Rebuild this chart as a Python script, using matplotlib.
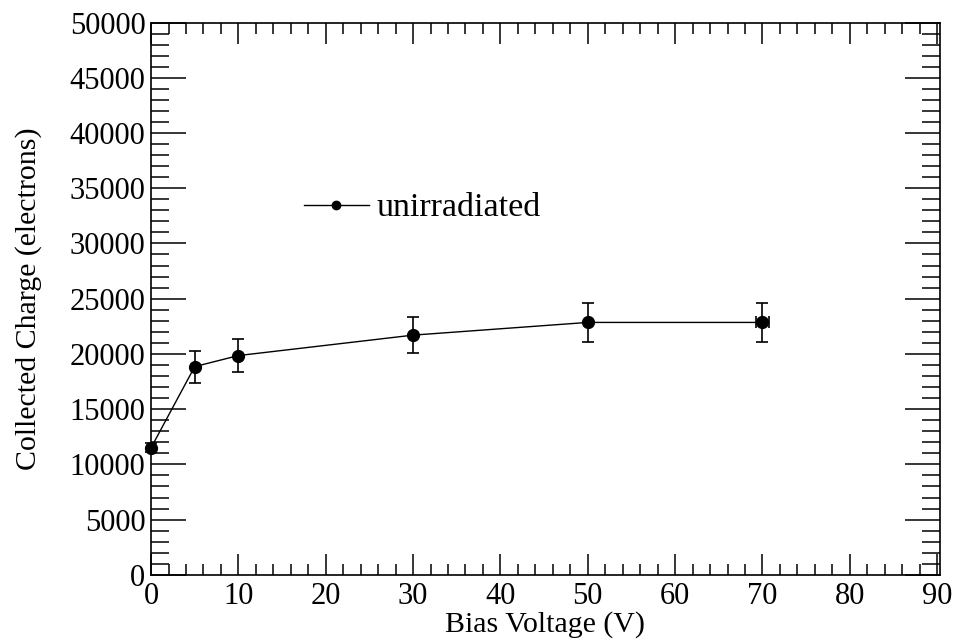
import matplotlib
matplotlib.use("Agg")
import matplotlib.pyplot as plt
from matplotlib.ticker import MultipleLocator

# Charge collection vs bias voltage
bias = [0, 5, 10, 30, 50, 70]
charge = [11500, 18850, 19850, 21700, 22850, 22850]
charge_err = [400, 1450, 1500, 1600, 1750, 1750]
bias_err = [0, 0, 0, 0, 0, 0.7]

plt.rcParams["font.family"] = ["Liberation Serif", "DejaVu Serif"]

fig = plt.figure(figsize=(9.56, 6.43), dpi=100)
ax = fig.add_axes([0.158, 0.106, 0.825, 0.859])

ax.errorbar(bias, charge, yerr=charge_err, xerr=bias_err, fmt="o-",
            color="black", lw=1, ms=8.5, elinewidth=1.2, capsize=4,
            capthick=1.2, clip_on=False, zorder=5)

# legend entry drawn by hand, ROOT-style
ax.plot([17.5, 25.0], [33500, 33500], color="black", lw=1)
ax.plot([21.2], [33500], "o", color="black", ms=6)
ax.text(25.8, 33200, "unirradiated", fontsize=24.5, va="center", ha="left")

ax.set_xlim(0, 90.3)
ax.set_ylim(0, 50000)
ax.xaxis.set_major_locator(MultipleLocator(10))
ax.xaxis.set_minor_locator(MultipleLocator(2))
ax.yaxis.set_major_locator(MultipleLocator(5000))
ax.yaxis.set_minor_locator(MultipleLocator(1000))

ax.tick_params(axis="both", which="both", direction="in", top=True,
               right=True, labelsize=22, width=1.1)
ax.tick_params(axis="x", which="major", length=15, pad=5)
ax.tick_params(axis="x", which="minor", length=8)
ax.tick_params(axis="y", which="major", length=25, pad=4)
ax.tick_params(axis="y", which="minor", length=13)
for s in ax.spines.values():
    s.set_linewidth(1.2)

ax.set_xlabel("Bias Voltage (V)", fontsize=21.5, labelpad=0)
ax.set_ylabel("Collected Charge (electrons)", fontsize=21.5, labelpad=20)

fig.savefig("out.png", dpi=100)
